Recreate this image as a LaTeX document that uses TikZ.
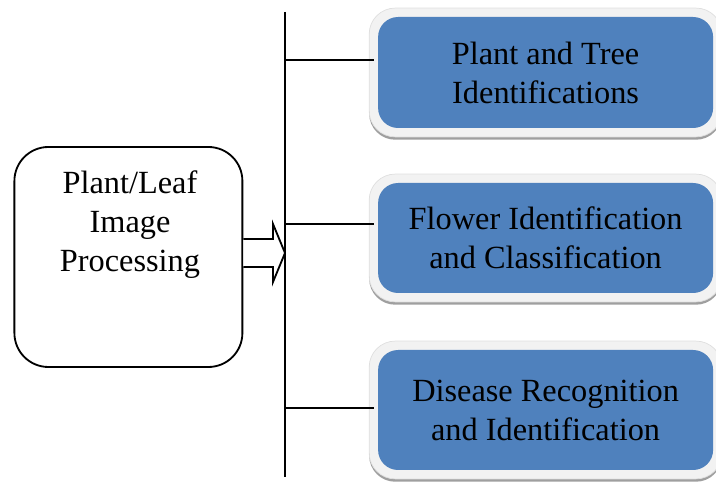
\documentclass[tikz,border=0pt]{standalone}
\usepackage{fontspec}
\setmainfont{Liberation Serif}
\usetikzlibrary{positioning}
\usetikzlibrary{shadows}
\usetikzlibrary{fit}
\usetikzlibrary{backgrounds}
\definecolor{boxblue}{HTML}{4F81BD}
\definecolor{rimgray}{HTML}{F2F2F2}

\begin{document}
\begin{tikzpicture}[line width=1.3pt,
	big text/.style={align=center,font=\fontsize{23}{27.7}\selectfont},
	proc node/.style={draw,fill=white,rounded corners=0.85cm,minimum width=5.7cm,minimum height=5.5cm},
	task node/.style={big text,fill=boxblue,rounded corners=0.5cm,minimum width=8.375cm},
	rim node/.style={fill=rimgray,draw=gray!25,line width=0.5pt,rounded corners=0.65cm,inner sep=0.2cm,
		drop shadow={shadow xshift=0pt,shadow yshift=-2pt,fill=gray!75,opacity=1}}]
	
	\useasboundingbox (0,0) rectangle (17.9,12.075);
	
	\node[proc node] (proc) at (3.21,5.65) {};
	\node[big text] (proc text) at (3.25,6.45) {Plant/Leaf\\Image\\Processing};
	
	\node[task node,minimum height=2.775cm] (tree) at (13.64,10.2625) {Plant and Tree\\Identifications};
	\node[task node,minimum height=2.75cm] (flower) at (13.64,6.125) {Flower Identification\\and Classification};
	\node[task node,minimum height=3cm] (disease) at (13.64,1.825) {Disease Recognition\\and Identification};
	
	\begin{scope}[on background layer]
	\node[rim node,fit=(tree)] (tree rim) {};
	\node[rim node,fit=(flower)] (flower rim) {};
	\node[rim node,fit=(disease)] (disease rim) {};
	\end{scope}
	
	\coordinate (spine top) at (7.125,11.775);
	\coordinate (spine bottom) at (7.125,0.15);
	\coordinate (tree end) at (9.35,10.575);
	\coordinate (flower end) at (9.35,6.475);
	\coordinate (disease end) at (9.35,1.875);
	
	\draw (spine top) -- (spine bottom);
	\draw (tree end -| spine top) -- (tree end);
	\draw (flower end -| spine top) -- (flower end);
	\draw (disease end -| spine top) -- (disease end);
	
	\draw[fill=white] (proc.east |- 0,6.1) -- (6.825,6.1) -- (6.825,6.475) -- (spine top |- 0,5.75)
		-- (6.825,5.025) -- (6.825,5.4) -- (proc.east |- 0,5.4);
\end{tikzpicture}
\end{document}
